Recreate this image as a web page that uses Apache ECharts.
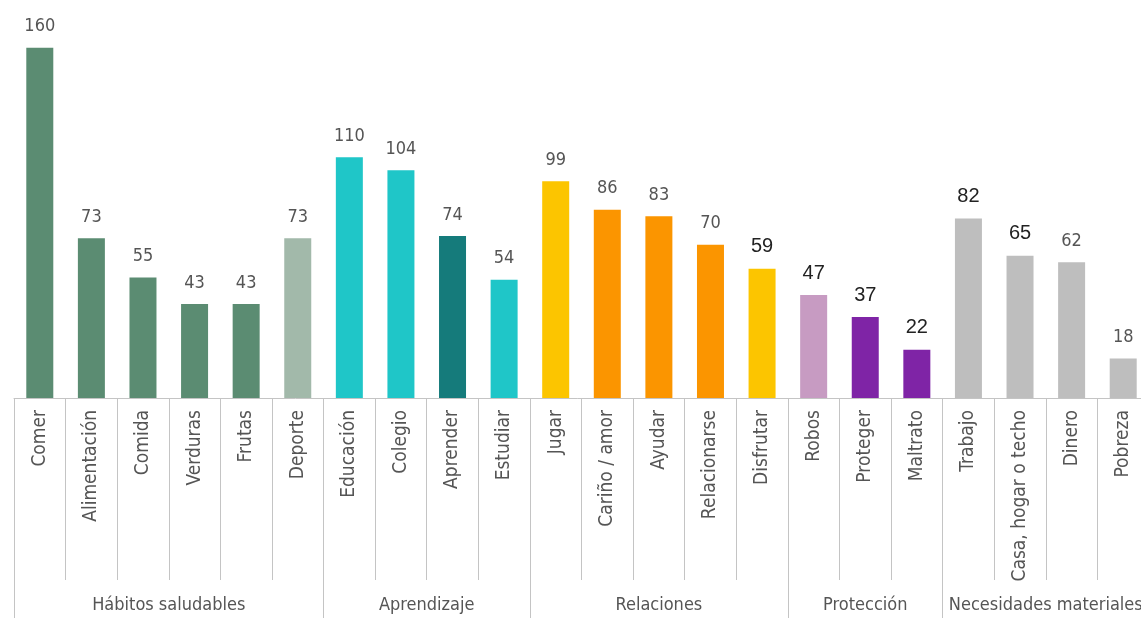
<!DOCTYPE html>
<html>
<head>
<meta charset="utf-8">
<script src="https://cdn.jsdelivr.net/npm/echarts@6/dist/echarts.min.js"></script>
<style>
  html, body { margin: 0; padding: 0; background: #fff; }
  #chart { width: 1141px; height: 618px; }
</style>
</head>
<body>
<div id="chart"></div>
<script>
var categories = ['Comer', 'Alimentación', 'Comida', 'Verduras', 'Frutas', 'Deporte',
    'Educación', 'Colegio', 'Aprender', 'Estudiar',
    'Jugar', 'Cariño / amor', 'Ayudar', 'Relacionarse', 'Disfrutar',
    'Robos', 'Proteger', 'Maltrato',
    'Trabajo', 'Casa, hogar o techo', 'Dinero', 'Pobreza'];
var values = [160, 73, 55, 43, 43, 73,
    110, 104, 74, 54,
    99, 86, 83, 70, 59,
    47, 37, 22,
    82, 65, 62, 18];
var groups = ['Hábitos saludables', 'Aprendizaje', 'Relaciones', 'Protección', 'Necesidades materiales'];
var groupSizes = [6, 4, 5, 3, 4];

// estilo
var barColors = ['#5b8c72', '#5b8c72', '#5b8c72', '#5b8c72', '#5b8c72', '#a2b9aa',
    '#1fc6c8', '#1fc6c8', '#157b7b', '#1fc6c8',
    '#fcc500', '#fb9500', '#fb9500', '#fb9500', '#fcc500',
    '#c79bc2', '#7f24a6', '#7f24a6',
    '#bebebe', '#bebebe', '#bebebe', '#bebebe'];
var bigLabels = ['Disfrutar', 'Robos', 'Proteger', 'Maltrato', 'Trabajo', 'Casa, hogar o techo'];
var condFont = '"DejaVu Sans Condensed", "Liberation Sans Narrow", "Noto Sans", sans-serif';

// eje de grupos: posiciones a medio paso (0..44)
var groupSlots = [];
for (var k = 0; k <= categories.length * 2; k++) groupSlots.push('');
var edges = [0];
var start = 0;
groups.forEach(function(g, i) {
    groupSlots[start * 2 + groupSizes[i]] = g;   // centro del grupo
    start += groupSizes[i];
    edges.push(start * 2);
});

var data = values.map(function(v, i) {
    var big = bigLabels.indexOf(categories[i]) >= 0;
    return {
        value: v,
        itemStyle: { color: barColors[i] },
        label: big ? { fontFamily: '"Liberation Sans", Arial, sans-serif', fontSize: 20, color: '#222' } : {}
    };
});

var chart = echarts.init(document.getElementById('chart'));
chart.setOption({
    animation: false,
    grid: { left: 14, top: 4, bottom: 220, width: 1135, outerBoundsMode: 'none', containLabel: false },
    xAxis: [{
        type: 'category',
        data: categories,
        axisLine: { show: true, lineStyle: { color: '#c4c4c4', width: 1 } },
        axisTick: { show: true, interval: 0, length: 182, lineStyle: { color: '#c4c4c4' } },
        axisLabel: {
            interval: 0, rotate: 90, margin: 12,
            fontFamily: condFont, fontSize: 19, color: '#555'
        }
    }, {
        type: 'category',
        position: 'bottom',
        boundaryGap: false,
        data: groupSlots,
        axisLine: { show: false },
        axisTick: {
            show: true,
            length: 220,
            interval: function(index) { return edges.indexOf(index) >= 0; },
            lineStyle: { color: '#c4c4c4' }
        },
        axisLabel: {
            interval: function(index, value) { return value !== ''; },
            margin: 198,
            fontFamily: condFont, fontSize: 18, color: '#555'
        }
    }],
    yAxis: { type: 'value', min: 0, max: 180, show: false },
    series: [{
        type: 'bar',
        data: data,
        barWidth: 27,
        label: {
            show: true, position: 'top', distance: 12,
            fontFamily: condFont, fontSize: 18, color: '#555'
        }
    }]
});
</script>
</body>
</html>
